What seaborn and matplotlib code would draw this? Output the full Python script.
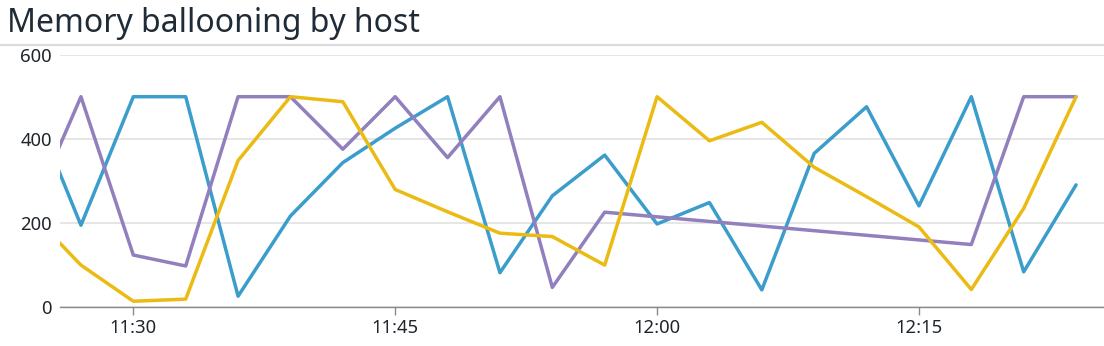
import numpy as np
import pandas as pd
import matplotlib
matplotlib.use("Agg")
import matplotlib.pyplot as plt
import matplotlib.dates as mdates
from matplotlib.lines import Line2D
import seaborn as sns

# samples every 3 minutes, 11:24 -> 12:24
times = pd.date_range("2024-01-01 11:24", "2024-01-01 12:24", freq="3min")

hosts = ["host-1", "host-2", "host-3"]
host_colors = ["#3a9dcc", "#927fbd", "#ebbb14"]

blue = [500, 194, 500, 500, 25, 216, 343, 425, 500, 81, 264,
        361, 197, 248, 40, 365, 476, 240, 500, 83, 290]
# purple has a gap between 12:00 and 12:15 (line just joins across)
purple = [212, 500, 123, 97, 500, 500, 375, 500, 355, 500, 46,
          225, None, None, None, None, None, None, 148, 500, 500]
yellow = [229, 99, 13, 18, 348, 500, 488, 279, 226, 175, 167,
          99, 500, 395, 439, 332, 262, 190, 41, 234, 500]

yticks = [0, 200, 400, 600]

frames = []
for host, vals in zip(hosts, [blue, purple, yellow]):
    frames.append(pd.DataFrame({"time": times, "value": vals, "host": host}))
df = pd.concat(frames, ignore_index=True).dropna()
df["value"] = df["value"].astype(float)

sns.set_style("white")
plt.rcParams["font.family"] = ["Noto Sans", "DejaVu Sans"]

fig = plt.figure(figsize=(11.04, 3.46), dpi=100)
ax = fig.add_axes([60 / 1104, 1 - 306.7 / 346, 1 - 60 / 1104, (306.7 - 54.7) / 346])

sns.lineplot(data=df, x="time", y="value", hue="host", hue_order=hosts,
             palette=host_colors, linewidth=2.5, legend=False, ax=ax)

ax.set_ylim(0, 600)
ax.set_yticks(yticks)
ax.set_xlim(times[0] + pd.Timedelta(minutes=1.8), times[0] + pd.Timedelta(minutes=61.6))
ax.xaxis.set_major_locator(mdates.MinuteLocator(byminute=[0, 15, 30, 45]))
ax.xaxis.set_major_formatter(mdates.DateFormatter("%H:%M"))
ax.set_xlabel("")
ax.set_ylabel("")

ax.grid(axis="y", color="#e4e4e4", linewidth=1.3)
ax.grid(axis="x", visible=False)
for side in ["left", "top", "right"]:
    ax.spines[side].set_visible(False)
ax.spines["bottom"].set_color("#8a8a8a")
ax.spines["bottom"].set_linewidth(1.0)

ax.tick_params(axis="y", length=0, pad=6, labelsize=13.3, labelcolor="#1f252b")
ax.tick_params(axis="x", length=6, width=1, color="#8a8a8a", pad=3,
               labelsize=13.3, labelcolor="#1f252b", bottom=True)

# title + separator line under it
fig.text(0.006, 1 - 32 / 346, "Memory ballooning by host", fontsize=23,
         color="#1f2b36", va="baseline", ha="left")
fig.add_artist(Line2D([0, 1], [1 - 44.5 / 346] * 2, color="#dcdcdc", linewidth=1.6))

fig.savefig("out.png", dpi=100)
